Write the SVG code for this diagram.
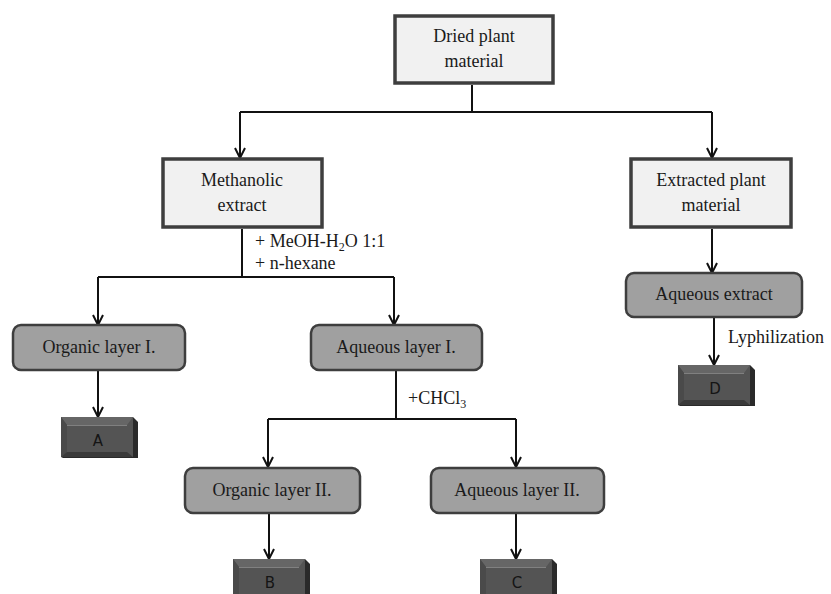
<svg xmlns="http://www.w3.org/2000/svg" width="831" height="594" viewBox="0 0 831 594">
<defs>
<style>
.t{font-family:"Liberation Serif","Times New Roman",serif;font-size:18px;fill:#1a1a1a;text-anchor:middle}
.lbl{font-family:"Liberation Serif","Times New Roman",serif;font-size:18px;fill:#1a1a1a}
.light{fill:#f1f1f1;stroke:#3e3e3e;stroke-width:3.5}
.gray{fill:#a0a0a0;stroke:#3e3e3e;stroke-width:2.5}
.conn{fill:none;stroke:#111;stroke-width:2}
.bl{font-family:"DejaVu Sans","Liberation Sans",sans-serif;font-size:15px;fill:#151515;text-anchor:middle}
.b-body{fill:#545454}
.b-top{fill:#666}
.b-hl{fill:none;stroke:#808080;stroke-width:1.2}
.b-left{fill:#4a4a4a}
.b-bot{fill:#3a3a3a}
.b-side{fill:#2a2a2a}
</style>
<marker id="ah" viewBox="0 0 12 12" refX="11" refY="6" markerWidth="12" markerHeight="12" markerUnits="userSpaceOnUse" orient="auto">
<path d="M1 1 L11 6 L1 11" fill="none" stroke="#111" stroke-width="2"/>
</marker>
<g id="bevel">
<rect class="b-body" x="0" y="0" width="72" height="40"/>
<polygon class="b-top" points="0,0 72,0 66,8 6,8"/>
<polygon class="b-left" points="0,0 6,8 6,35 0,40"/>
<polygon class="b-bot" points="0,40 6,35 66,35 72,40"/>
<path class="b-hl" d="M6 8.5 H66"/>
<polygon class="b-side" points="72,0 77,5 77,40 72,40"/>
<polygon class="b-side" points="0,40 77,40 77,41 2,41"/>
</g>
</defs>
<rect width="831" height="594" fill="#fff"/>

<g id="connectors">
<path class="conn" d="M472 85 V112"/>
<path class="conn" d="M240 112 H712"/>
<path class="conn" d="M240 112 V158" marker-end="url(#ah)"/>
<path class="conn" d="M712 112 V158" marker-end="url(#ah)"/>
<path class="conn" d="M242 229 V277"/>
<path class="conn" d="M98 277 H394"/>
<path class="conn" d="M98 277 V325" marker-end="url(#ah)"/>
<path class="conn" d="M394 277 V325" marker-end="url(#ah)"/>
<path class="conn" d="M98 371 V417" marker-end="url(#ah)"/>
<path class="conn" d="M396 371 V419"/>
<path class="conn" d="M268 419 H516"/>
<path class="conn" d="M268 419 V467" marker-end="url(#ah)"/>
<path class="conn" d="M516 419 V467" marker-end="url(#ah)"/>
<path class="conn" d="M269 514 V559" marker-end="url(#ah)"/>
<path class="conn" d="M516 514 V559" marker-end="url(#ah)"/>
<path class="conn" d="M712 229 V273" marker-end="url(#ah)"/>
<path class="conn" d="M714 318 V365" marker-end="url(#ah)"/>
<text class="lbl" x="255" y="247">+ MeOH-H<tspan font-size="12" dy="4">2</tspan><tspan dy="-4">O 1:1</tspan></text>
<text class="lbl" x="255" y="269">+ n-hexane</text>
<text class="lbl" x="408" y="404">+CHCl<tspan font-size="12" dy="4">3</tspan></text>
<text class="lbl" x="728" y="343">Lyphilization</text>
</g>

<g id="dried">
<rect class="light" x="395" y="16" width="158" height="67"/>
<text class="t" x="474" y="42">Dried plant</text>
<text class="t" x="474" y="67">material</text>
</g>
<g id="methanolic">
<rect class="light" x="163" y="159" width="159" height="68"/>
<text class="t" x="242" y="186">Methanolic</text>
<text class="t" x="242" y="211">extract</text>
</g>
<g id="extracted">
<rect class="light" x="631" y="159" width="160" height="68"/>
<text class="t" x="711" y="186">Extracted plant</text>
<text class="t" x="711" y="211">material</text>
</g>
<g id="organic1">
<rect class="gray" x="13" y="325" width="172" height="45" rx="8"/>
<text class="t" x="99" y="353">Organic layer I.</text>
</g>
<g id="aqueous1">
<rect class="gray" x="311" y="325" width="171" height="45" rx="8"/>
<text class="t" x="396" y="353">Aqueous layer I.</text>
</g>
<g id="aqueousext">
<rect class="gray" x="626" y="273" width="176" height="44" rx="8"/>
<text class="t" x="714" y="300">Aqueous extract</text>
</g>
<g id="organic2">
<rect class="gray" x="185" y="468" width="175" height="45" rx="8"/>
<text class="t" x="272" y="496">Organic layer II.</text>
</g>
<g id="aqueous2">
<rect class="gray" x="431" y="468" width="173" height="45" rx="8"/>
<text class="t" x="517" y="496">Aqueous layer II.</text>
</g>
<g id="A" transform="translate(61,417)">
<use href="#bevel"/>
<text class="bl" x="37" y="29">A</text>
</g>
<g id="B" transform="translate(233,559)">
<use href="#bevel"/>
<text class="bl" x="37" y="29">B</text>
</g>
<g id="C" transform="translate(480,559)">
<use href="#bevel"/>
<text class="bl" x="37" y="29">C</text>
</g>
<g id="D" transform="translate(678,365)">
<use href="#bevel"/>
<text class="bl" x="37" y="29">D</text>
</g>
</svg>
